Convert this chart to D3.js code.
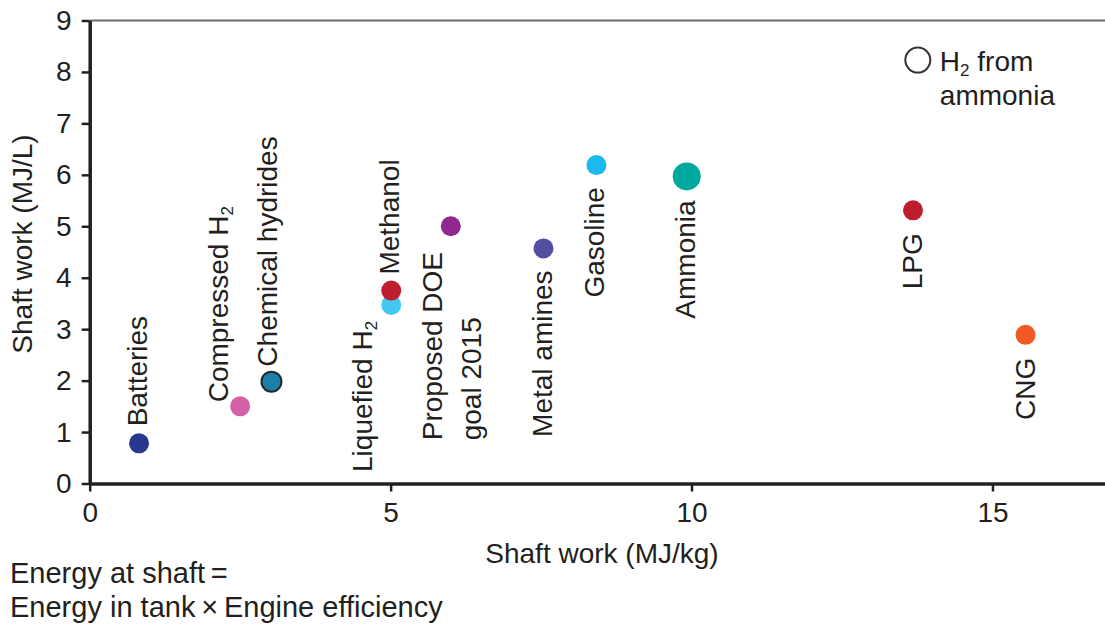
<!DOCTYPE html>
<html>
<head>
<meta charset="utf-8">
<script src="https://cdn.jsdelivr.net/npm/d3@7"></script>
<style>
  html, body { margin: 0; padding: 0; background: #fff; }
  svg { display: block; font-family: "Liberation Sans", Arial, Helvetica, sans-serif; }
</style>
</head>
<body>
<svg id="chart" width="1105" height="625"></svg>
<script>
// Fuels and storage media: shaft work per mass (MJ/kg) and per volume (MJ/L)
const fuels = ["Batteries", "Compressed H_2", "Chemical hydrides", "Liquefied H_2", "Methanol",
               "Proposed DOE goal 2015", "Metal amines", "Gasoline", "Ammonia", "LPG", "CNG"];
const massWork = [0.82, 2.50, 3.02, 5.01, 5.01, 6.00, 7.54, 8.42, 9.92, 13.68, 15.55];
const volWork  = [0.78, 1.50, 1.98, 3.47, 3.75, 5.00, 4.57, 6.19, 5.97, 5.31, 2.89];

const xTicks = [0, 5, 10, 15];
const yTicks = [0, 1, 2, 3, 4, 5, 6, 7, 8, 9];

// Legend entry (open marker) and its position in data units
const legendLabel = ["H_2 from", "ammonia"];
const legendAt = [13.76, 8.23];

const footnote = ["Energy at shaft\u2009=", "Energy in tank\u2009\u00d7\u2009Engine efficiency"];

// Marker styles
const markStyle = {
  "Batteries":              { fill: "#29388f" },
  "Compressed H_2":         { fill: "#d660a8" },
  "Chemical hydrides":      { fill: "#1b7fa6", stroke: "#1d2b36", sw: 2 },
  "Liquefied H_2":          { fill: "#45c8f0" },
  "Methanol":               { fill: "#be1e2d" },
  "Proposed DOE goal 2015": { fill: "#92278f" },
  "Metal amines":           { fill: "#524fa1" },
  "Gasoline":               { fill: "#1bb9ee" },
  "Ammonia":                { fill: "#00a99d", r: 14 },
  "LPG":                    { fill: "#be1e2d" },
  "CNG":                    { fill: "#f15a24" }
};

// Vertical label placement relative to each marker (pixels):
// dx = baseline offset, dy = where the text begins (start) or ends (end)
const labelPlace = {
  "Batteries":              { anchor: "start", dx: 8,   dy: -17 },
  "Compressed H_2":         { anchor: "start", dx: -12, dy: -4 },
  "Chemical hydrides":      { anchor: "start", dx: 6,   dy: -15 },
  "Liquefied H_2":          { anchor: "start", dx: -19, dy: 167 },
  "Methanol":               { anchor: "start", dx: 8,   dy: -16 },
  "Proposed DOE goal 2015": { anchor: "start", dx: -9,  dy: 214, lines: ["Proposed DOE", "goal 2015"], lineGap: 39 },
  "Metal amines":           { anchor: "end",   dx: 9,   dy: 22 },
  "Gasoline":               { anchor: "end",   dx: 8,   dy: 22 },
  "Ammonia":                { anchor: "end",   dx: 8,   dy: 24 },
  "LPG":                    { anchor: "end",   dx: 9,   dy: 23 },
  "CNG":                    { anchor: "end",   dx: 9,   dy: 23 }
};

const W = 1105, H = 625;
const FS = 28;
const ink = "#231f20";

const svg = d3.select("#chart");

const x = d3.scaleLinear().domain([0, 16.87]).range([89.7, 1105]);
const y = d3.scaleLinear().domain([0, 9]).range([483.5, 20.5]);

// Text with "_d" subscripts rendered as lowered small digits
function rich(sel, str) {
  const parts = str.split(/_(\d)/);
  let lowered = false;
  parts.forEach((p, i) => {
    if (i % 2 === 1) {
      sel.append("tspan").attr("dy", 5).attr("font-size", 17).text(p);
      lowered = true;
    } else if (p) {
      const t = sel.append("tspan").text(p);
      if (lowered) { t.attr("dy", -5); lowered = false; }
    }
  });
}

// Top frame line
svg.append("line")
  .attr("x1", x(0)).attr("x2", x.range()[1])
  .attr("y1", y(9)).attr("y2", y(9))
  .attr("stroke", "#6a6a6a").attr("stroke-width", 2);

// Axes
const yAxis = svg.append("g")
  .attr("transform", `translate(${x(0)},0)`)
  .call(d3.axisLeft(y).tickValues(yTicks).tickSize(8).tickSizeOuter(0).tickPadding(10));
const xAxis = svg.append("g")
  .attr("transform", `translate(0,${y(0)})`)
  .call(d3.axisBottom(x).tickValues(xTicks).tickSize(8).tickSizeOuter(0).tickPadding(11));

[yAxis, xAxis].forEach(g => {
  g.select(".domain").attr("stroke", ink).attr("stroke-width", 3.5);
  g.selectAll(".tick line").attr("stroke", ink).attr("stroke-width", 2.5);
  g.selectAll(".tick text").attr("fill", ink).attr("font-size", FS)
    .attr("font-family", "Liberation Sans, Arial, sans-serif");
});

// Axis titles
svg.append("text")
  .attr("x", 602).attr("y", 563)
  .attr("text-anchor", "middle").attr("font-size", FS).attr("fill", ink)
  .text("Shaft work (MJ/kg)");
svg.append("text")
  .attr("transform", "translate(32,244) rotate(-90)")
  .attr("text-anchor", "middle").attr("font-size", FS).attr("fill", ink)
  .text("Shaft work (MJ/L)");

// Points
const pts = fuels.map((name, i) => ({ name, mx: massWork[i], vy: volWork[i] }));

svg.append("g").selectAll("circle")
  .data(pts)
  .join("circle")
  .attr("cx", d => x(d.mx))
  .attr("cy", d => y(d.vy))
  .attr("r", d => markStyle[d.name].r || 10)
  .attr("fill", d => markStyle[d.name].fill)
  .attr("stroke", d => markStyle[d.name].stroke || "none")
  .attr("stroke-width", d => markStyle[d.name].sw || 0);

// Vertical point labels
const labels = svg.append("g").attr("fill", ink).attr("font-size", FS);
pts.forEach(d => {
  const p = labelPlace[d.name];
  const lines = p.lines || [d.name];
  lines.forEach((ln, k) => {
    const bx = x(d.mx) + p.dx + k * (p.lineGap || 0);
    const by = y(d.vy) + p.dy;
    const t = labels.append("text")
      .attr("transform", `translate(${bx},${by}) rotate(-90)`)
      .attr("text-anchor", p.anchor);
    rich(t, ln);
  });
});

// Legend: open marker for hydrogen from ammonia, two-line caption in one text block
const lx = x(legendAt[0]), ly = y(legendAt[1]);
svg.append("circle")
  .attr("cx", lx).attr("cy", ly).attr("r", 12.5)
  .attr("fill", "#fff").attr("stroke", "#333").attr("stroke-width", 2);
const legText = svg.append("text")
  .attr("x", lx + 22).attr("y", ly + 11)
  .attr("font-size", FS).attr("fill", ink);
rich(legText, legendLabel[0]);
legText.append("tspan").attr("x", lx + 22).attr("y", ly + 45).text(legendLabel[1]);

// Footnote
footnote.forEach((ln, k) => {
  svg.append("text")
    .attr("x", 10).attr("y", 583 + k * 34)
    .attr("font-size", 29).attr("fill", ink)
    .text(ln);
});
</script>
</body>
</html>
